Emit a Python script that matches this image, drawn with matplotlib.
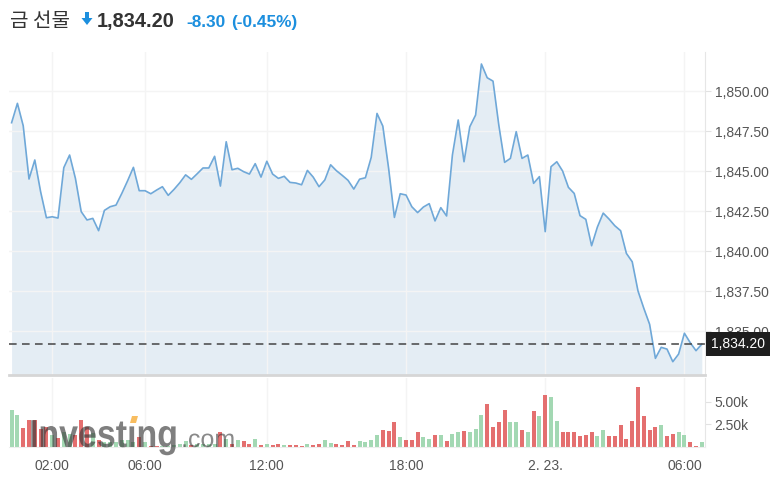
import matplotlib
matplotlib.use("Agg")
import matplotlib.pyplot as plt
from matplotlib.font_manager import FontProperties
from matplotlib.patches import PathPatch, Polygon
from matplotlib.textpath import TextPath
from matplotlib.transforms import Affine2D, blended_transform_factory

plt.rcParams["font.family"] = ["Liberation Sans", "DejaVu Sans"]

# 15분 간격 종가 (index 기반 x축)
price = [
    1848.04, 1849.25, 1847.85, 1844.52, 1845.71, 1843.73, 1842.10, 1842.16, 1842.08, 1845.23,
    1846.02, 1844.56, 1842.48, 1841.96, 1842.06, 1841.29, 1842.56, 1842.79, 1842.89, 1843.62,
    1844.41, 1845.25, 1843.79, 1843.79, 1843.60, 1843.83, 1844.04, 1843.50, 1843.87, 1844.29,
    1844.78, 1844.50, 1844.85, 1845.21, 1845.21, 1845.94, 1844.08, 1846.85, 1845.10, 1845.19,
    1844.98, 1844.83, 1845.48, 1844.64, 1845.63, 1844.83, 1844.56, 1844.69, 1844.31, 1844.27,
    1844.16, 1845.06, 1844.64, 1844.04, 1844.46, 1845.41, 1845.04, 1844.75, 1844.44, 1843.89,
    1844.51, 1844.60, 1845.87, 1848.62, 1847.83, 1845.19, 1842.12, 1843.60, 1843.52, 1842.79,
    1842.42, 1842.77, 1842.98, 1841.90, 1842.73, 1842.21, 1846.02, 1848.21, 1845.60, 1847.79,
    1848.52, 1851.71, 1850.85, 1850.64, 1847.89, 1845.56, 1845.81, 1847.48, 1845.81, 1846.02,
    1844.25, 1844.67, 1841.23, 1845.29, 1845.60, 1845.02, 1844.00, 1843.62, 1842.23, 1842.00,
    1840.35, 1841.52, 1842.39, 1842.02, 1841.60, 1841.29, 1839.87, 1839.35, 1837.52, 1836.44,
    1835.44, 1833.31, 1834.00, 1833.89, 1833.10, 1833.58, 1834.88, 1834.29, 1833.79, 1834.20,
]

# 거래량 (천 단위)
volume = [
    4.04, 3.49, 2.09, 2.94, 2.94, 2.02, 2.20, 1.28, 0.99, 1.65,
    1.47, 1.28, 2.94, 2.20, 1.54, 0.73, 0.55, 0.55, 0.55, 0.73,
    0.73, 0.55, 1.10, 0.55, 0.07, 0.07, 0.07, 0.15, 0.18, 0.37,
    0.62, 0.18, 0.29, 0.29, 0.37, 0.37, 1.65, 0.92, 0.29, 0.73,
    0.62, 0.37, 0.84, 0.18, 0.29, 0.18, 0.29, 0.18, 0.18, 0.18,
    0.07, 0.29, 0.18, 0.29, 0.73, 0.44, 0.29, 0.18, 0.62, 0.18,
    0.66, 0.51, 0.81, 1.36, 1.91, 1.76, 2.72, 1.07, 0.81, 0.81,
    1.65, 1.07, 0.92, 1.36, 1.36, 0.70, 1.47, 1.62, 1.76, 1.62,
    2.02, 3.56, 4.77, 2.17, 2.72, 4.11, 2.72, 2.72, 1.91, 1.62,
    3.96, 3.41, 5.76, 5.47, 2.86, 1.62, 1.62, 1.62, 1.21, 1.36,
    1.62, 1.21, 1.91, 1.21, 1.21, 2.46, 0.92, 2.86, 6.61, 3.41,
    1.91, 2.17, 2.46, 1.21, 1.47, 1.62, 1.36, 0.51, 0.15, 0.51,
]

# G = 상승봉, R = 하락봉
volume_side = (
    "GGRRRRRGRG" "GRRRGRGGGG" "GGRGRRGGGG" "GRGGGGRGRG" "RRGRGRRGRR" "RGRRGGRRRR"
    "GGGGRRRGRR" "RGGRGRGGRG" "GGRRRRGGRG" "RGRGGRRRRR" "RGGRRRRRRR" "RRGRRGGRRG"
)

tick_idx = [7, 23, 44, 68, 92, 116]
tick_labels = ["02:00", "06:00", "12:00", "18:00", "2. 23.", "06:00"]
price_ticks = [1835.0, 1837.5, 1840.0, 1842.5, 1845.0, 1847.5, 1850.0]
vol_ticks = [2.5, 5.0]

last = price[-1]
change = -8.30
change_pct = -0.45

W, H = 782, 480
fig = plt.figure(figsize=(W / 100, H / 100), dpi=100)


def fx(px):
    return px / W


def fy(py):
    return 1 - py / H


LEFT, RIGHT = 9, 705
ax = fig.add_axes([fx(LEFT), fy(375), (RIGHT - LEFT) / W, (375 - 52) / H])
axv = fig.add_axes([fx(LEFT), fy(447), (RIGHT - LEFT) / W, (447 - 378) / H], sharex=ax)

ymin, ymax = 1832.27, 1852.46
xs = list(range(len(price)))
ax.fill_between(xs, price, ymin, color="#e4edf4", lw=0, zorder=1)
ax.plot(xs, price, color="#6fa8d8", lw=1.2, zorder=3)
ax.axhline(last, color="#444444", lw=1.1, dashes=(5, 3.5), zorder=4)
ax.set_ylim(ymin, ymax)
ax.set_xlim(-0.45, len(price) - 0.45)

ax.yaxis.tick_right()
ax.set_yticks(price_ticks)
ax.set_yticklabels([f"{v:,.2f}" for v in price_ticks])
ax.tick_params(axis="y", length=4, color="#e2e2e2", labelsize=10, labelcolor="#555555", pad=3)
ax.set_xticks(tick_idx)
ax.tick_params(axis="x", length=0, labelbottom=False)
ax.grid(color="#f4f4f4", lw=1, zorder=0)
for side in ("top", "left"):
    ax.spines[side].set_visible(False)
ax.spines["right"].set_color("#e6e6e6")
ax.spines["bottom"].set_color("#d6d6d6")
ax.spines["bottom"].set_linewidth(2)

# 현재가 라벨 (1,835.00 눈금 위를 덮음)
trans = blended_transform_factory(ax.transAxes, ax.transData)
ax.text(1.009, last, f"{last:,.2f}", transform=trans, ha="left", va="center",
        color="white", fontsize=10, zorder=10, clip_on=False,
        bbox=dict(boxstyle="square,pad=0.36", fc="#1e1e1e", ec="none"))

# 거래량
colors = ["#a3d8b3" if s == "G" else "#e46f6f" for s in volume_side]
axv.bar(xs, volume, width=0.72, color=colors, zorder=2)
axv.set_ylim(0, 7.6)
axv.yaxis.tick_right()
axv.set_yticks(vol_ticks)
axv.set_yticklabels([f"{v:.2f}k" for v in vol_ticks])
axv.tick_params(axis="y", length=4, color="#e2e2e2", labelsize=10, labelcolor="#555555", pad=3)
axv.set_xticks(tick_idx)
axv.set_xticklabels(tick_labels)
axv.tick_params(axis="x", length=0, labelsize=10, labelcolor="#555555", pad=9)
axv.grid(axis="x", color="#f4f4f4", lw=1, zorder=0)
for side in ("top", "left"):
    axv.spines[side].set_visible(False)
axv.spines["right"].set_color("#e6e6e6")
axv.spines["bottom"].set_color("#eeeeee")

# 워터마크 (가로로 좁힌 굵은 글씨)
wm_bold = TextPath((0, 0), "Investıng", size=39, prop=FontProperties(family="Liberation Sans", weight="bold"))
fig.patches.append(PathPatch(wm_bold, transform=Affine2D().scale(0.87, 1.0).translate(29, H - 447),
                             fc="#3a3a3a", ec="none", alpha=0.65, zorder=5))
wm_com = TextPath((0, 0), ".com", size=25, prop=FontProperties(family="Liberation Sans"))
fig.patches.append(PathPatch(wm_com, transform=Affine2D().translate(181, H - 447),
                             fc="#3a3a3a", ec="none", alpha=0.6, zorder=5))
fig.patches.append(Polygon([(fx(130), fy(423)), (fx(136), fy(423)), (fx(138), fy(416)), (fx(132), fy(416))],
                           closed=True, transform=fig.transFigure, fc="#f7b244", ec="none",
                           alpha=0.85, zorder=6))

# 제목
fig.text(fx(10), fy(27), "금 선물", family=["Noto Sans CJK KR", "DejaVu Sans"], fontsize=14.5,
         color="#333333", va="baseline")
arrow = [(85, 12), (89, 12), (89, 18), (92.5, 18), (87, 25), (81.5, 18), (85, 18)]
fig.patches.append(Polygon([(fx(a), fy(b)) for a, b in arrow], closed=True,
                           transform=fig.transFigure, fc="#1c8fde", ec="none"))
fig.text(fx(97), fy(27), f"{last:,.2f}", weight="bold", fontsize=14.4, color="#333333", va="baseline")
fig.text(fx(186), fy(27), f"{change:.2f}", weight="bold", fontsize=12.4, color="#1c8fde", va="baseline")
fig.text(fx(231), fy(27), f"({change_pct:.2f}%)", weight="bold", fontsize=12.4, color="#1c8fde",
         va="baseline")

fig.savefig("out.png", dpi=100)
